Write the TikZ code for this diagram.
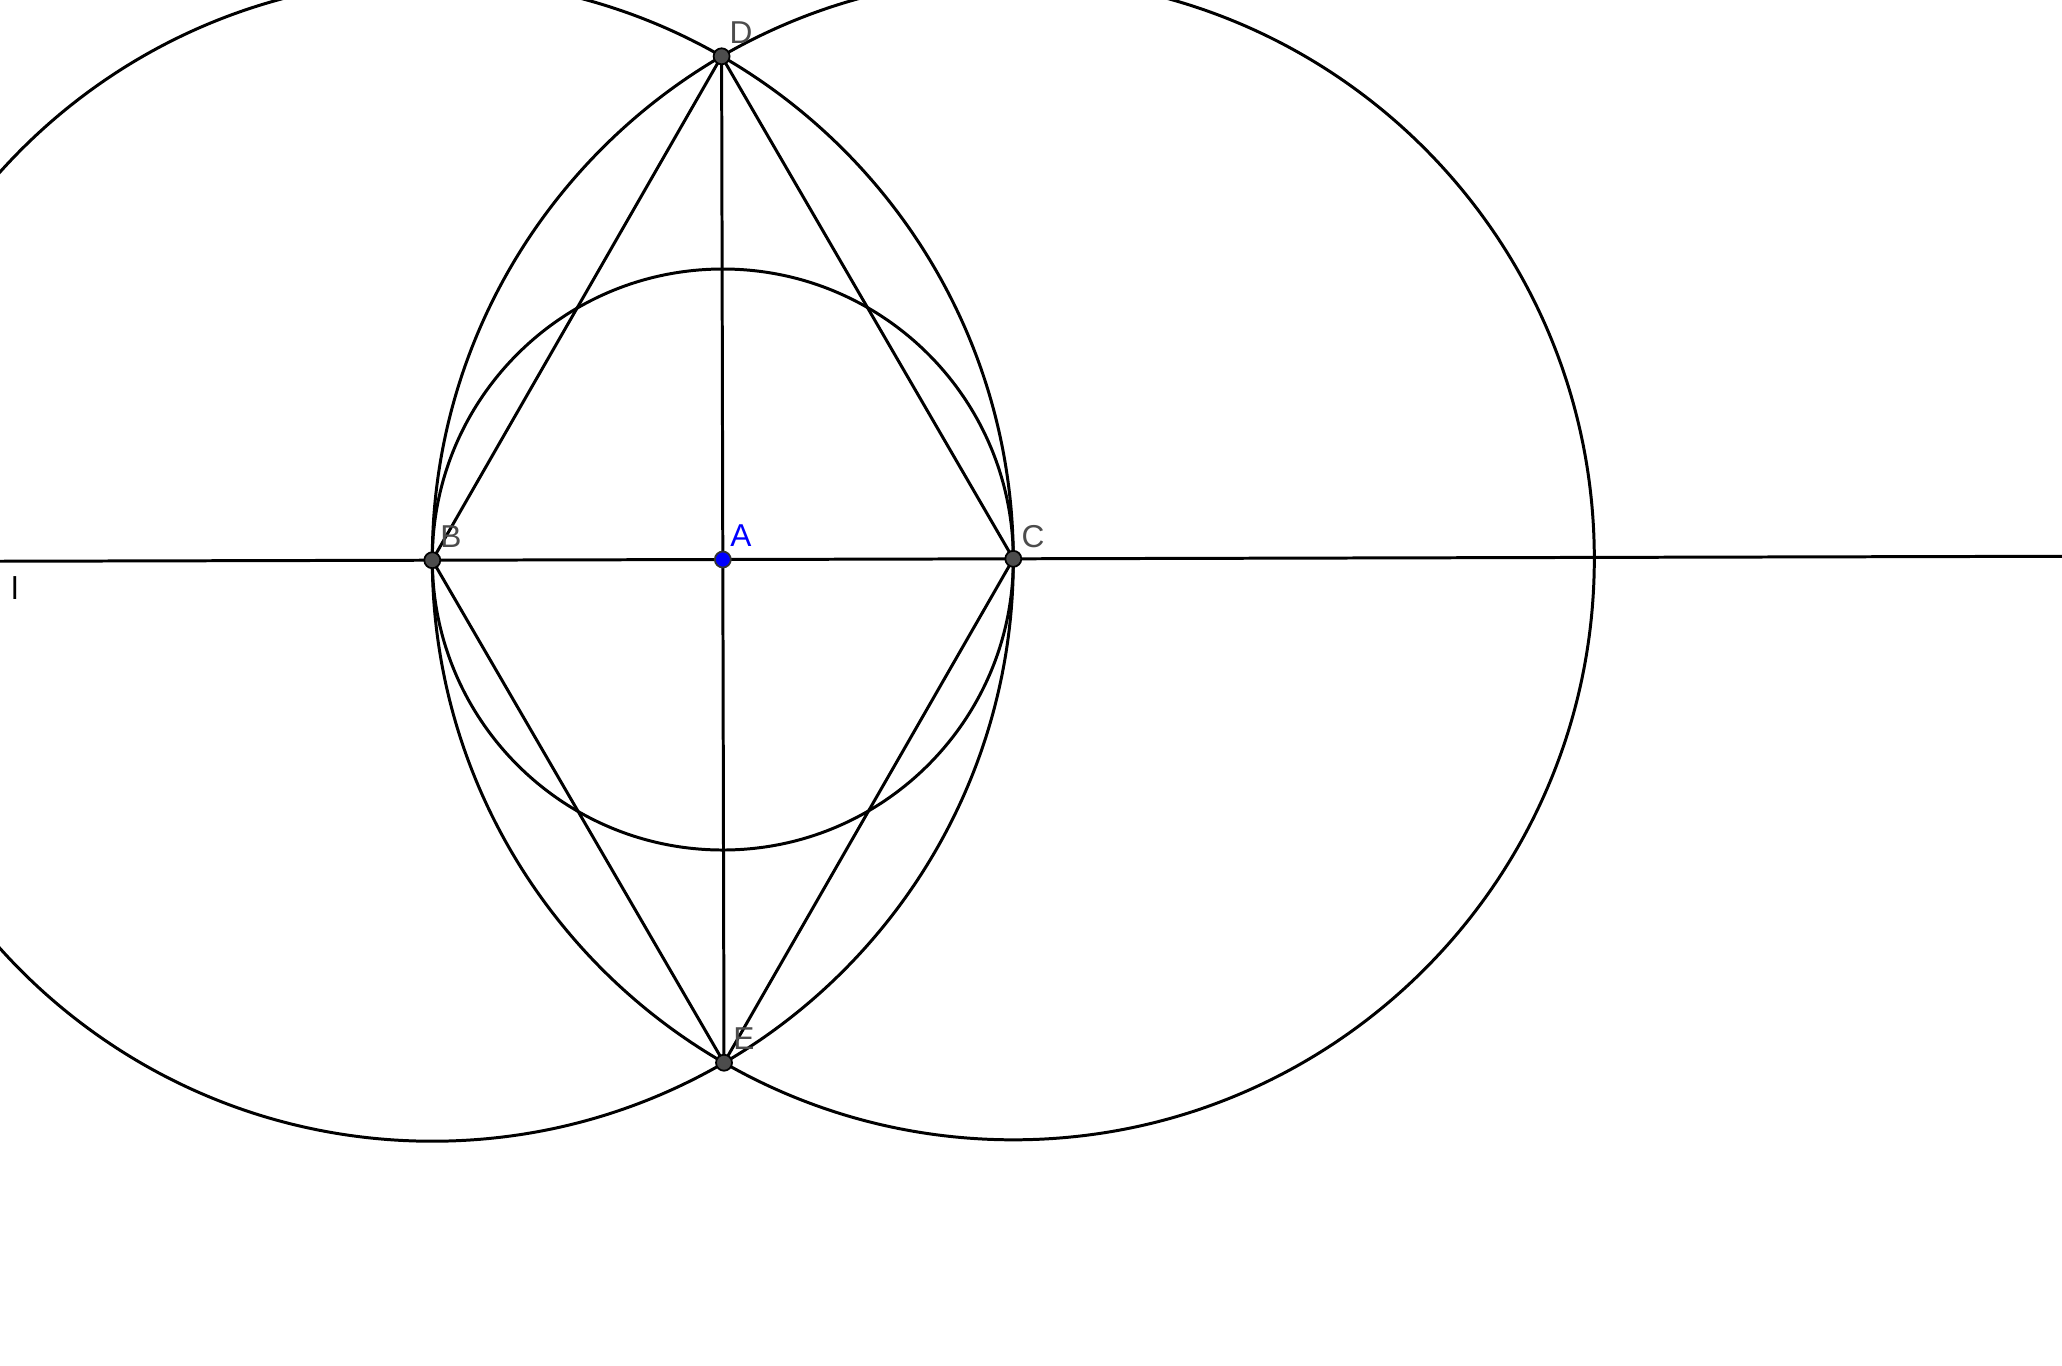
\documentclass[tikz,border=0pt]{standalone}
\usepackage{fontspec}
\setmainfont{Liberation Sans}
\begin{document}
\begin{tikzpicture}[
  geo/.style={line width=0.85pt, black},
  pt/.style={circle, draw=black, line width=0.5pt, fill=black!70, minimum size=0.16cm, inner sep=0pt},
  ptA/.style={circle, draw=black!80, line width=0.5pt, fill=blue, minimum size=0.16cm, inner sep=0pt},
  lab/.style={font=\fontsize{9}{10}\selectfont, text=black!70, inner sep=0pt},
]
\useasboundingbox (0,0) rectangle (20.62,-13.65);
\clip (0,0) rectangle (20.62,-13.65);
\coordinate (B) at (4.323,-5.602);
\coordinate (C) at (10.133,-5.588);
\coordinate (A) at (7.228,-5.595);
\coordinate (D) at (7.216,-0.563);
\coordinate (E) at (7.240,-10.627);
\coordinate (L1) at (0,-5.6124);
\coordinate (L2) at (20.62,-5.5627);
% line l
\draw[geo] (L1) -- (L2);
% circles
\draw[geo] (B) circle [radius=5.81cm];
\draw[geo] (C) circle [radius=5.81cm];
\draw[geo] (A) circle [radius=2.905cm];
% segments
\draw[geo] (D) -- (E);
\draw[geo] (B) -- (D) -- (C) -- (E) -- cycle;
% points
\node[pt] (nB) at (B) {};
\node[pt] (nC) at (C) {};
\node[pt] (nD) at (D) {};
\node[pt] (nE) at (E) {};
\node[ptA] (nA) at (A) {};
% labels
\node[lab] (tB) at (4.51,-5.37) {B};
\node[lab, text=blue] (tA) at (7.41,-5.36) {A};
\node[lab] (tC) at (10.33,-5.37) {C};
\node[lab] (tD) at (7.41,-0.33) {D};
\node[lab] (tE) at (7.44,-10.39) {E};
\node[lab, text=black] (tl) at (0.15,-5.88) {l};
\end{tikzpicture}
\end{document}
